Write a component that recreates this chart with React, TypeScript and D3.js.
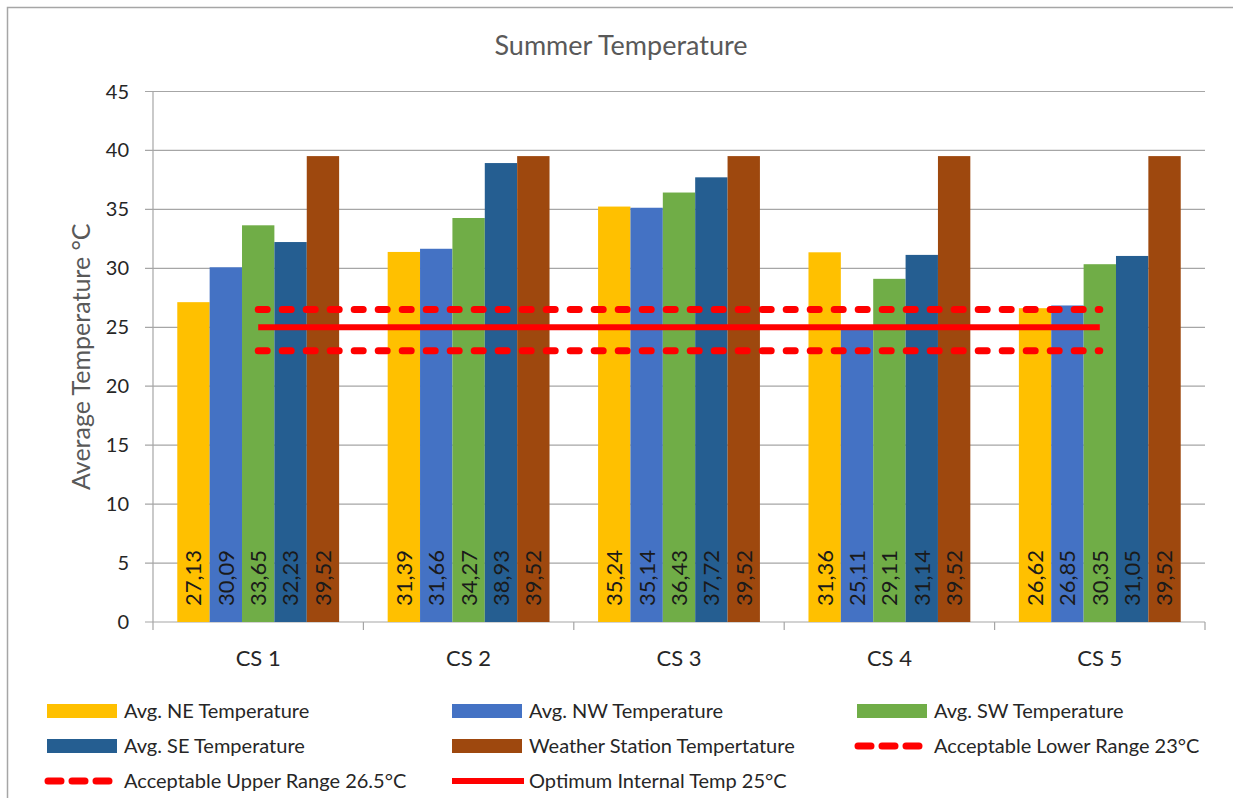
import React, { useEffect, useRef } from "react";
import * as d3 from "d3";

// chart values
const categories = ["CS 1", "CS 2", "CS 3", "CS 4", "CS 5"];
const seriesNames = [
  "Avg. NE Temperature",
  "Avg. NW Temperature",
  "Avg. SW Temperature",
  "Avg. SE Temperature",
  "Weather Station Tempertature",
];
const seriesColors = ["#FFC000", "#4472C4", "#70AD47", "#255E91", "#9E480E"];
const neValues = [27.13, 31.39, 35.24, 31.36, 26.62];
const nwValues = [30.09, 31.66, 35.14, 25.11, 26.85];
const swValues = [33.65, 34.27, 36.43, 29.11, 30.35];
const seValues = [32.23, 38.93, 37.72, 31.14, 31.05];
const weatherValues = [39.52, 39.52, 39.52, 39.52, 39.52];
const lowerRange = [23, 23, 23, 23, 23];
const upperRange = [26.5, 26.5, 26.5, 26.5, 26.5];
const optimum = [25, 25, 25, 25, 25];
const yTicks = [0, 5, 10, 15, 20, 25, 30, 35, 40, 45];

const FONT = "Lato, 'Open Sans', sans-serif";

const App = () => {
  const ref = useRef<SVGSVGElement>(null);

  useEffect(() => {
    const svg = d3.select(ref.current);
    svg.selectAll("*").remove();

    const W = 1233;
    const H = 798;
    const left = 153;
    const right = 1205;
    const top = 91.5;
    const bottom = 622;

    // outer frame
    svg
      .append("rect")
      .attr("x", 7.5)
      .attr("y", 7.5)
      .attr("width", W + 20)
      .attr("height", H + 20)
      .attr("fill", "white")
      .attr("stroke", "#a6a6a6")
      .attr("stroke-width", 1.5);

    // title
    svg
      .append("text")
      .attr("x", 621)
      .attr("y", 55)
      .attr("text-anchor", "middle")
      .style("font-family", FONT)
      .style("font-size", "27px")
      .attr("fill", "#595959")
      .text("Summer Temperature");

    const xScale = d3.scaleBand().domain(categories).range([left, right]);
    const yScale = d3.scaleLinear().domain([0, 45]).range([bottom, top]);

    // gap width 150% between groups
    const bw = xScale.bandwidth() / 6.5;
    const inner = d3
      .scaleBand()
      .domain(seriesNames)
      .range([bw * 0.75, xScale.bandwidth() - bw * 0.75]);

    // gridlines
    svg
      .append("g")
      .selectAll("line")
      .data(yTicks)
      .enter()
      .append("line")
      .attr("x1", left - 8)
      .attr("x2", right)
      .attr("y1", (d) => yScale(d))
      .attr("y2", (d) => yScale(d))
      .attr("stroke", "#a6a6a6")
      .attr("stroke-width", 1.2);

    // y tick labels
    svg
      .append("g")
      .selectAll("text")
      .data(yTicks)
      .enter()
      .append("text")
      .attr("x", 129)
      .attr("y", (d) => yScale(d))
      .attr("dy", "0.35em")
      .attr("text-anchor", "end")
      .style("font-family", FONT)
      .style("font-size", "20px")
      .attr("fill", "#262626")
      .text((d) => d);

    // y axis line
    svg
      .append("line")
      .attr("x1", left)
      .attr("x2", left)
      .attr("y1", top)
      .attr("y2", bottom)
      .attr("stroke", "#a6a6a6")
      .attr("stroke-width", 1.2);

    // category ticks
    const bounds = categories.map((c) => xScale(c) as number).concat([right]);
    svg
      .append("g")
      .selectAll("line")
      .data(bounds)
      .enter()
      .append("line")
      .attr("x1", (d) => d)
      .attr("x2", (d) => d)
      .attr("y1", bottom)
      .attr("y2", bottom + 8)
      .attr("stroke", "#a6a6a6")
      .attr("stroke-width", 1.2);

    // category labels
    svg
      .append("g")
      .selectAll("text")
      .data(categories)
      .enter()
      .append("text")
      .attr("x", (d) => (xScale(d) as number) + xScale.bandwidth() / 2)
      .attr("y", 666)
      .attr("text-anchor", "middle")
      .style("font-family", FONT)
      .style("font-size", "22px")
      .attr("fill", "#262626")
      .text((d) => d);

    // y axis title
    svg
      .append("text")
      .attr("transform", `translate(90,${(top + bottom) / 2}) rotate(-90)`)
      .attr("text-anchor", "middle")
      .style("font-family", FONT)
      .style("font-size", "25px")
      .attr("fill", "#595959")
      .text("Average Temperature °C");

    // bars
    const allValues = [neValues, nwValues, swValues, seValues, weatherValues];
    const rows = categories.flatMap((c, i) =>
      seriesNames.map((s, j) => ({ cat: c, series: s, color: seriesColors[j], value: allValues[j][i] }))
    );

    const barG = svg.append("g");
    barG
      .selectAll("rect")
      .data(rows)
      .enter()
      .append("rect")
      .attr("x", (d) => (xScale(d.cat) as number) + (inner(d.series) as number))
      .attr("y", (d) => yScale(d.value))
      .attr("width", inner.bandwidth())
      .attr("height", (d) => yScale(0) - yScale(d.value))
      .attr("fill", (d) => d.color);

    // data labels, rotated, inside base
    barG
      .selectAll("text")
      .data(rows)
      .enter()
      .append("text")
      .attr("transform", (d) => {
        const cx = (xScale(d.cat) as number) + (inner(d.series) as number) + inner.bandwidth() / 2;
        return `translate(${cx},${bottom - 16}) rotate(-90)`;
      })
      .attr("dy", "0.36em")
      .attr("text-anchor", "start")
      .style("font-family", FONT)
      .style("font-size", "22px")
      .attr("fill", "#1a1a1a")
      .text((d) => d3.format(".2f")(d.value).replace(".", ","));

    // range lines
    const line = d3
      .line<number>()
      .x((d, i) => (xScale(categories[i]) as number) + xScale.bandwidth() / 2)
      .y((d) => yScale(d));

    const lines = [
      { values: upperRange, dash: "9 15", width: 7 },
      { values: lowerRange, dash: "9 15", width: 7 },
      { values: optimum, dash: null, width: 6 },
    ];
    lines.forEach((l) => {
      svg
        .append("path")
        .attr("d", line(l.values))
        .attr("fill", "none")
        .attr("stroke", "#FF0000")
        .attr("stroke-width", l.width)
        .attr("stroke-linecap", l.dash ? "round" : "butt")
        .attr("stroke-dasharray", l.dash);
    });

    // legend
    const legendItems = [
      ...seriesNames.map((s, i) => ({ name: s, color: seriesColors[i], type: "bar" })),
      { name: "Acceptable Lower Range 23°C", color: "#FF0000", type: "dash" },
      { name: "Acceptable Upper Range 26.5°C", color: "#FF0000", type: "dash" },
      { name: "Optimum Internal Temp 25°C", color: "#FF0000", type: "line" },
    ];
    const colX = [47, 452, 857];
    const rowY = [711, 746, 781];
    legendItems.forEach((it, i) => {
      const x = colX[i % 3];
      const y = rowY[Math.floor(i / 3)];
      const g = svg.append("g");
      if (it.type === "bar") {
        g.append("rect")
          .attr("x", x)
          .attr("y", y - 7)
          .attr("width", 70)
          .attr("height", 14)
          .attr("fill", it.color);
      } else if (it.type === "dash") {
        g.append("line")
          .attr("x1", x + 1)
          .attr("x2", x + 68)
          .attr("y1", y)
          .attr("y2", y)
          .attr("stroke", it.color)
          .attr("stroke-width", 7)
          .attr("stroke-linecap", "round")
          .attr("stroke-dasharray", "13 11");
      } else {
        g.append("line")
          .attr("x1", x)
          .attr("x2", x + 72)
          .attr("y1", y)
          .attr("y2", y)
          .attr("stroke", it.color)
          .attr("stroke-width", 6);
      }
      g.append("text")
        .attr("x", x + 77)
        .attr("y", y)
        .attr("dy", "0.35em")
        .style("font-family", FONT)
        .style("font-size", "20px")
        .attr("fill", "#262626")
        .text(it.name);
    });
  }, []);

  return (
    <div style={{ position: "absolute", left: 0, top: 0 }}>
      <svg ref={ref} width={1233} height={798} style={{ display: "block" }} />
    </div>
  );
};

export default App;
